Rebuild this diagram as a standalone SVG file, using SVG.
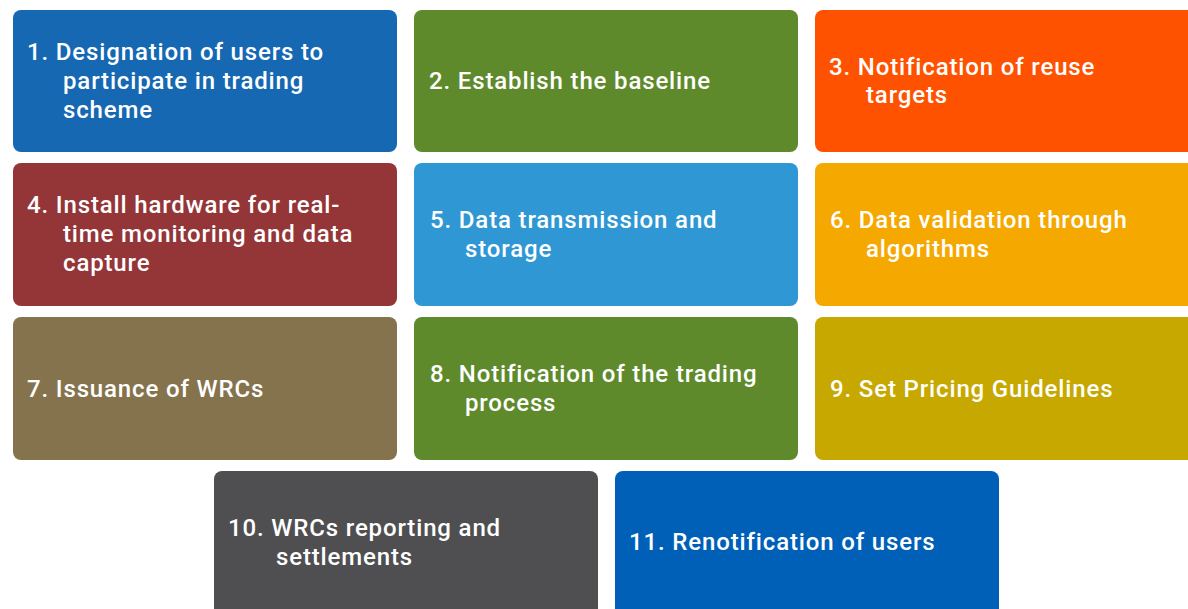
<svg xmlns="http://www.w3.org/2000/svg" width="1188" height="609" viewBox="0 0 1188 609">
<style>
.box{stroke:none}
.t{font-family:Roboto,"Liberation Sans",sans-serif;font-weight:500;font-size:24px;letter-spacing:0.85px;fill:#ffffff}
</style>
<rect width="1188" height="609" fill="#ffffff"/>
<g id="node1"><rect class="box" x="13" y="10" width="384" height="142" rx="8" fill="#1668b3"/>
<text class="t"><tspan x="27" y="60">1. Designation of users to</tspan><tspan x="63" y="89">participate in trading</tspan><tspan x="63" y="118">scheme</tspan></text></g>
<g id="node2"><rect class="box" x="414" y="10" width="384" height="142" rx="8" fill="#5e8a2c"/>
<text class="t"><tspan x="429" y="89">2. Establish the baseline</tspan></text></g>
<g id="node3"><rect class="box" x="815" y="10" width="384" height="142" rx="8" fill="#ff5200"/>
<text class="t"><tspan x="829" y="75">3. Notification of reuse</tspan><tspan x="866" y="103">targets</tspan></text></g>
<g id="node4"><rect class="box" x="13" y="163" width="384" height="143" rx="8" fill="#943538"/>
<text class="t"><tspan x="27" y="213">4. Install hardware for real-</tspan><tspan x="63" y="242">time monitoring and data</tspan><tspan x="63" y="271">capture</tspan></text></g>
<g id="node5"><rect class="box" x="414" y="163" width="384" height="143" rx="8" fill="#2e97d4"/>
<text class="t"><tspan x="430" y="228">5. Data transmission and</tspan><tspan x="465" y="257">storage</tspan></text></g>
<g id="node6"><rect class="box" x="815" y="163" width="384" height="143" rx="8" fill="#f5a800"/>
<text class="t"><tspan x="830" y="228">6. Data validation through</tspan><tspan x="866" y="257">algorithms</tspan></text></g>
<g id="node7"><rect class="box" x="13" y="317" width="384" height="143" rx="8" fill="#85734e"/>
<text class="t"><tspan x="27" y="397">7. Issuance of WRCs</tspan></text></g>
<g id="node8"><rect class="box" x="414" y="317" width="384" height="143" rx="8" fill="#5e8a2c"/>
<text class="t"><tspan x="430" y="382">8. Notification of the trading</tspan><tspan x="465" y="411">process</tspan></text></g>
<g id="node9"><rect class="box" x="815" y="317" width="384" height="143" rx="8" fill="#c6a800"/>
<text class="t"><tspan x="830" y="397">9. Set Pricing Guidelines</tspan></text></g>
<g id="node10"><rect class="box" x="214" y="471" width="384" height="150" rx="8" fill="#4f4f51"/>
<text class="t"><tspan x="228" y="536">10. WRCs reporting and</tspan><tspan x="276" y="565">settlements</tspan></text></g>
<g id="node11"><rect class="box" x="615" y="471" width="384" height="150" rx="8" fill="#0060b8"/>
<text class="t"><tspan x="629" y="550">11. Renotification of users</tspan></text></g>
<g id="connectors"/>
</svg>
